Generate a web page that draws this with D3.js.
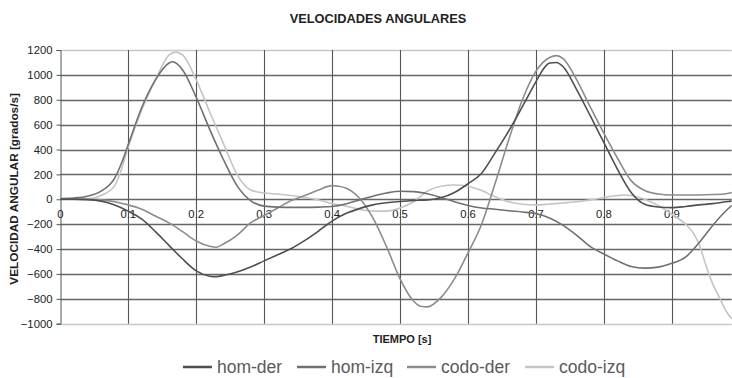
<!DOCTYPE html>
<html>
<head>
<meta charset="utf-8">
<script src="https://cdn.jsdelivr.net/npm/d3@7/dist/d3.min.js"></script>
<style>
  html, body { margin: 0; padding: 0; background: #fff; }
  svg { display: block; font-family: Arial, "Liberation Sans", sans-serif; }
</style>
</head>
<body>
<svg id="chart" width="732" height="378"></svg>
<script>
// Time samples (s) and angular velocities (grados/s) for each joint
const tHomDer = [0,0.02,0.04,0.06,0.08,0.10,0.12,0.14,0.16,0.18,0.20,0.22,0.23,0.24,0.26,0.28,0.30,0.32,0.34,0.36,0.38,0.40,0.42,0.44,0.46,0.48,0.50,0.52,0.54,0.56,0.58,0.60,0.62,0.64,0.66,0.68,0.70,0.71,0.72,0.73,0.74,0.76,0.78,0.80,0.82,0.84,0.86,0.88,0.90,0.92,0.94,0.96,0.98,0.988];
const homDer  = [0,0,-3,-15,-45,-95,-160,-260,-370,-480,-575,-618,-622,-612,-585,-545,-495,-445,-395,-330,-255,-175,-115,-75,-45,-28,-18,-10,-5,12,55,125,210,375,550,745,945,1040,1095,1100,1065,880,670,455,240,55,-40,-62,-67,-58,-45,-35,-20,-15];

const tHomIzq = [0,0.02,0.04,0.06,0.08,0.09,0.10,0.12,0.14,0.16,0.165,0.18,0.20,0.22,0.24,0.26,0.28,0.30,0.32,0.34,0.36,0.38,0.40,0.42,0.44,0.46,0.48,0.50,0.52,0.54,0.56,0.58,0.60,0.62,0.64,0.66,0.68,0.70,0.72,0.74,0.76,0.78,0.80,0.82,0.84,0.86,0.88,0.90,0.92,0.94,0.96,0.98,0.988];
const homIzq  = [5,10,25,65,170,290,440,740,960,1095,1105,1040,820,560,320,110,-10,-55,-63,-65,-65,-63,-58,-38,-5,25,50,65,62,45,15,-20,-50,-70,-80,-92,-102,-115,-150,-210,-290,-380,-440,-495,-540,-553,-545,-515,-465,-350,-210,-90,-50];

const tCodoDer = [0,0.02,0.04,0.06,0.08,0.10,0.12,0.14,0.16,0.18,0.20,0.22,0.23,0.24,0.26,0.28,0.30,0.32,0.34,0.36,0.38,0.40,0.41,0.42,0.44,0.46,0.48,0.50,0.52,0.53,0.54,0.56,0.58,0.60,0.62,0.64,0.66,0.68,0.70,0.72,0.73,0.74,0.76,0.78,0.80,0.82,0.84,0.86,0.88,0.90,0.92,0.94,0.96,0.98,0.988];
const codoDer  = [0,0,0,-5,-20,-45,-80,-135,-190,-260,-335,-378,-385,-360,-290,-190,-130,-70,-10,30,75,110,105,90,10,-150,-380,-640,-820,-860,-865,-790,-640,-430,-200,130,480,800,1030,1140,1155,1130,960,740,530,330,150,70,42,35,35,35,38,45,55];

const tCodoIzq = [0,0.02,0.04,0.06,0.08,0.09,0.10,0.12,0.14,0.16,0.17,0.18,0.20,0.22,0.24,0.26,0.28,0.30,0.32,0.34,0.36,0.38,0.40,0.42,0.44,0.46,0.48,0.50,0.52,0.54,0.56,0.58,0.60,0.62,0.64,0.66,0.68,0.70,0.72,0.74,0.76,0.78,0.80,0.82,0.83,0.84,0.86,0.88,0.90,0.92,0.93,0.94,0.95,0.96,0.97,0.98,0.988];
const codoIzq  = [5,5,3,30,110,240,420,720,960,1160,1183,1160,960,700,450,200,75,50,42,30,15,-5,-35,-55,-80,-95,-95,-70,-20,65,105,115,105,70,20,-20,-40,-45,-38,-30,-20,-5,15,30,35,30,0,-50,-120,-200,-260,-360,-530,-680,-790,-900,-960];

const seriesNames = ["hom-der", "hom-izq", "codo-der", "codo-izq"];
const seriesColors = ["#4f4f4f", "#707070", "#8c8c8c", "#c4c4c4"];
const yTicks = [-1000,-800,-600,-400,-200,0,200,400,600,800,1000,1200];
const xTicks = [0,0.1,0.2,0.3,0.4,0.5,0.6,0.7,0.8,0.9];
const xTickLabels = ["0","0.1","0.2","0.3","0.4","0.5","0.6","0.7","0.8","0.9"];

const series = [
  { name: seriesNames[0], t: tHomDer,  v: homDer,  color: seriesColors[0] },
  { name: seriesNames[1], t: tHomIzq,  v: homIzq,  color: seriesColors[1] },
  { name: seriesNames[2], t: tCodoDer, v: codoDer, color: seriesColors[2] },
  { name: seriesNames[3], t: tCodoIzq, v: codoIzq, color: seriesColors[3] }
];

const svg = d3.select("#chart");
const plot = { left: 60.3, right: 731.7, top: 50, bottom: 323.7 };

const x = d3.scaleLinear().domain([0, 0.988]).range([plot.left, plot.right]);
const y = d3.scaleLinear().domain([-1000, 1200]).range([plot.bottom, plot.top]);

// Title
svg.append("text")
  .attr("x", 378).attr("y", 23)
  .attr("text-anchor", "middle")
  .attr("font-size", 12.8).attr("font-weight", "bold").attr("fill", "#222")
  .text("VELOCIDADES ANGULARES");

// Horizontal gridlines
svg.append("g").selectAll("line").data(yTicks).join("line")
  .attr("x1", plot.left).attr("x2", plot.right)
  .attr("y1", d => Math.round(y(d)) + 0.5).attr("y2", d => Math.round(y(d)) + 0.5)
  .attr("stroke", d => (d === 1200 || d === -1000) ? "#c8c8c8" : "#666")
  .attr("stroke-width", 1.3);

// Vertical gridlines
svg.append("g").selectAll("line").data(xTicks.slice(1)).join("line")
  .attr("x1", d => Math.round(x(d)) + 0.5).attr("x2", d => Math.round(x(d)) + 0.5)
  .attr("y1", plot.top).attr("y2", plot.bottom)
  .attr("stroke", "#555").attr("stroke-width", 1.1);

// Y axis
const yAxis = d3.axisLeft(y).tickValues(yTicks).tickSize(4).tickPadding(4).tickFormat(d3.format("d"));
const gy = svg.append("g").attr("transform", `translate(${Math.round(plot.left) + 0.5},0)`).call(yAxis);
gy.select(".domain").attr("stroke", "#555");
gy.selectAll(".tick line").attr("stroke", "#555");
gy.selectAll(".tick text").attr("font-size", 11.3).attr("fill", "#222").attr("font-family", "Arial, 'Liberation Sans', sans-serif");

// X tick labels placed under the zero line
svg.append("g").selectAll("text").data(xTicks).join("text")
  .attr("x", d => x(d)).attr("y", y(0) + 19)
  .attr("text-anchor", "middle")
  .attr("font-size", 11.3).attr("fill", "#222")
  .text((d, i) => xTickLabels[i]);

// Axis titles
svg.append("text")
  .attr("transform", `translate(18,${(plot.top + plot.bottom) / 2 + 2}) rotate(-90)`)
  .attr("text-anchor", "middle")
  .attr("font-size", 11.8).attr("font-weight", "bold").attr("fill", "#222")
  .text("VELOCIDAD ANGULAR [grados/s]");

svg.append("text")
  .attr("x", 402).attr("y", 343)
  .attr("text-anchor", "middle")
  .attr("font-size", 11).attr("font-weight", "bold").attr("fill", "#222")
  .text("TIEMPO [s]");

// Series lines
svg.append("clipPath").attr("id", "clip").append("rect")
  .attr("x", plot.left).attr("y", plot.top - 5)
  .attr("width", plot.right - plot.left + 1).attr("height", plot.bottom - plot.top + 10);

const line = d3.line()
  .x(d => x(d[0])).y(d => y(d[1]))
  .curve(d3.curveMonotoneX);

const gLines = svg.append("g").attr("clip-path", "url(#clip)");
// draw lighter series first so darker ones sit on top
[3, 2, 1, 0].forEach(i => {
  const s = series[i];
  gLines.append("path")
    .datum(s.t.map((t, k) => [t, s.v[k]]))
    .attr("d", line)
    .attr("fill", "none")
    .attr("stroke", s.color)
    .attr("stroke-width", 1.6)
    .attr("stroke-linejoin", "round");
});

// Legend
const legendX = [183, 297, 407, 525];
const legend = svg.append("g");
series.forEach((s, i) => {
  const g = legend.append("g").attr("transform", `translate(${legendX[i]},367)`);
  g.append("line").attr("x1", 0).attr("x2", 29).attr("y1", 0).attr("y2", 0)
    .attr("stroke", s.color).attr("stroke-width", 2.5);
  g.append("text").attr("x", 34).attr("y", 6)
    .attr("font-size", 17.5).attr("fill", "#5a5a5a")
    .text(s.name);
});
</script>
</body>
</html>
